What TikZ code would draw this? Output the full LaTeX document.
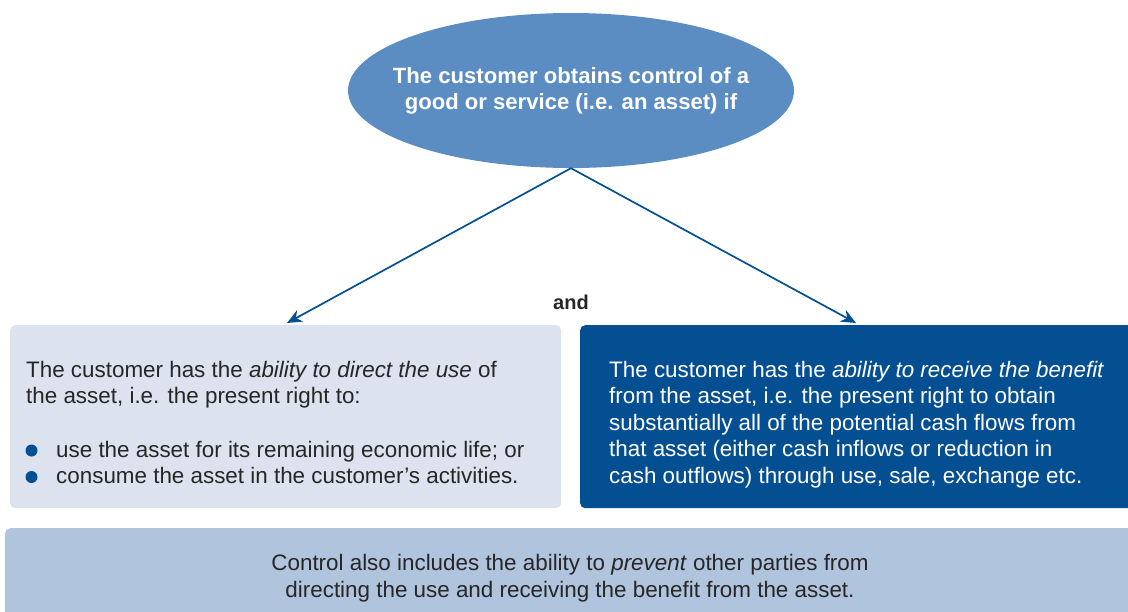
\documentclass[tikz,border=0pt]{standalone}
\usepackage{fontspec}
\setmainfont{Liberation Sans}
\usetikzlibrary{shapes.geometric,arrows.meta}
\definecolor{ellblue}{HTML}{5B8DC2}
\definecolor{dblue}{HTML}{044E92}
\definecolor{lightbox}{HTML}{DCE3EF}
\definecolor{midbox}{HTML}{B0C4DE}
\definecolor{txt}{HTML}{262626}
\tikzset{
  boxshape/.style={rounded corners=5pt, inner sep=0pt, anchor=north west},
  bodytext/.style={inner sep=0pt, anchor=north west, align=left,
    font=\fontsize{22.4}{26.4}\selectfont},
  link/.style={draw=dblue, line width=1.7pt, -{Stealth[length=15pt,width=13pt]}},
  dot/.style={circle, fill=dblue, inner sep=0pt, minimum size=12pt}
}
\begin{document}
\begin{tikzpicture}[x=1pt,y=-1pt]
\useasboundingbox (0,0) rectangle (1128,611);
% boxes
\node[boxshape, fill=lightbox, minimum width=551pt, minimum height=183pt] (lbox) at (10,325) {};
\node[boxshape, fill=dblue, minimum width=560pt, minimum height=183pt] (rbox) at (580,325) {};
\node[boxshape, fill=midbox, minimum width=1135pt, minimum height=100pt] (bbox) at (5,528) {};
% ellipse
\node[ellipse, fill=ellblue, minimum width=446pt, minimum height=155pt, inner sep=0pt] (top) at (571,90.5) {};
\node[inner sep=0pt, text=white, align=center, font=\fontsize{22.1}{26}\selectfont\bfseries] (toptext) at (571,91)
  {The customer obtains control of a\\good or service (i.e. an asset) if};
% arrows
\coordinate (la) at (287,323);
\coordinate (ra) at (856,323);
\draw[link] (top.south) -- (la);
\draw[link] (top.south) -- (ra);
\node[font=\fontsize{20}{24}\selectfont\bfseries, text=txt] (and) at (571,302) {and};
% left text
\node[bodytext, text=txt] (ltext) at (26,361)
  {The customer has the \textit{ability to direct the use} of\\the asset, i.e. the present right to:};
\node[bodytext, text=txt] (litems) at (56,441)
  {use the asset for its remaining economic life; or\\consume the asset in the customer’s activities.};
\node[dot] (b1) at (31.5,450.5) {};
\node[dot] (b2) at (31.5,477) {};
% right text
\node[bodytext, text=white] (rtext) at (609,361)
  {The customer has the \textit{ability to receive the benefit}\\from the asset, i.e. the present right to obtain\\substantially all of the potential cash flows from\\that asset (either cash inflows or reduction in\\cash outflows) through use, sale, exchange etc.};
% bottom text
\node[inner sep=0pt, align=center, text=txt, font=\fontsize{22.4}{27}\selectfont] (btext) at (570,578)
  {Control also includes the ability to \textit{prevent} other parties from\\directing the use and receiving the benefit from the asset.};
\end{tikzpicture}
\end{document}
